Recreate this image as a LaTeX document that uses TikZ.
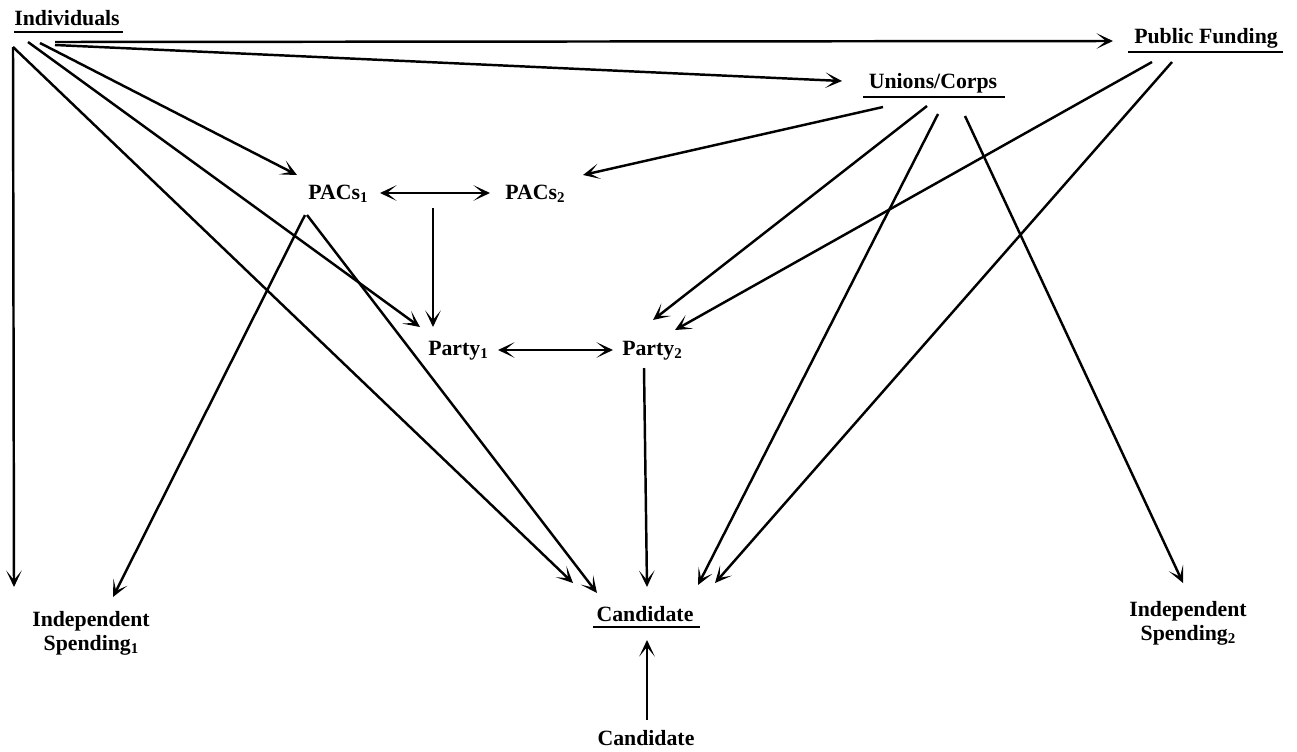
\documentclass[tikz,border=0pt]{standalone}
\usepackage{fontspec}
\setmainfont{Liberation Serif}
\usetikzlibrary{arrows.meta}
\newcommand\lsub[1]{\raisebox{-0.35ex}{\fontsize{8.5}{8.5}\selectfont #1}}
\tikzset{
  tipx/.tip={Stealth[length=0.33cm,width=0.31cm,inset=0.19cm]},
  lbl/.style={font=\fontsize{12.4}{13.8}\selectfont\bfseries, inner sep=0pt, anchor=base},
  conn/.style={line width=1.4pt, -tipx},
  twoway/.style={line width=1.4pt, tipx-tipx},
  ul/.style={line width=1.5pt}
}
\begin{document}
\begin{tikzpicture}[x=0.02cm,y=-0.02cm]
\useasboundingbox (0,0) rectangle (1297,751);
% nodes
\node[lbl] (ind) at (67,25) {Individuals};
\node[lbl] (pub) at (1206,43) {Public Funding};
\node[lbl] (uni) at (933,88) {Unions/Corps};
\node[lbl] (pac1) at (338,199) {PACs\lsub{1}};
\node[lbl] (pac2) at (535,199) {PACs\lsub{2}};
\node[lbl] (par1) at (458,355) {Party\lsub{1}};
\node[lbl] (par2) at (652,355) {Party\lsub{2}};
\node[lbl] (cand) at (645,621) {Candidate};
\node[lbl] (cand2) at (646,745) {Candidate};
\node[lbl, anchor=center, align=center] (is1) at (91,633) {Independent\\Spending\lsub{1}};
\node[lbl, anchor=center, align=center] (is2) at (1188,623) {Independent\\Spending\lsub{2}};
% underlines
\draw[ul] (14,32) -- (123,32);
\draw[ul] (1128,52) -- (1283,52);
\draw[ul] (863,97) -- (1005,97);
\draw[ul] (593,627) -- (700,627);
% connector end points
\coordinate (indA) at (13,47);
\coordinate (indB) at (28,42);
\coordinate (indC) at (40,43);
\coordinate (indD) at (55,42);
\coordinate (indE) at (55,45);
\coordinate (lft) at (14,587);
\coordinate (pubIn) at (1113,41);
\coordinate (uniIn) at (842,81);
\coordinate (pac1In) at (297,175);
\coordinate (pac1A) at (305,215);
\coordinate (pac1B) at (307,215);
\coordinate (is1In) at (113,597);
\coordinate (candA) at (573,583);
\coordinate (candB) at (597,593);
\coordinate (candC) at (647,587);
\coordinate (candD) at (698,585);
\coordinate (candE) at (715,583);
\coordinate (candF) at (647,640);
\coordinate (cand2Out) at (647,720);
\coordinate (pacL) at (380,193);
\coordinate (pacR) at (490,193);
\coordinate (pacsOut) at (433,208);
\coordinate (par1In) at (433,327);
\coordinate (par1InB) at (420,327);
\coordinate (parL) at (498,350);
\coordinate (parR) at (613,350);
\coordinate (par2Out) at (644,368);
\coordinate (par2InA) at (653,320);
\coordinate (par2InB) at (675,330);
\coordinate (pac2In) at (583,175);
\coordinate (uniA) at (883,107);
\coordinate (uniB) at (927,106);
\coordinate (uniC) at (938,114);
\coordinate (uniD) at (965,116);
\coordinate (is2In) at (1183,583);
\coordinate (pubA) at (1152,62);
\coordinate (pubB) at (1172,62);
% connectors from Individuals
\draw[conn] (indA) -- (lft);
\draw[conn] (indA) -- (candA);
\draw[conn] (indB) -- (par1InB);
\draw[conn] (indC) -- (pac1In);
\draw[conn] (indD) -- (pubIn);
\draw[conn] (indE) -- (uniIn);
% PACs
\draw[conn] (pac1A) -- (is1In);
\draw[conn] (pac1B) -- (candB);
\draw[twoway] (pacL) -- (pacR);
\draw[conn] (pacsOut) -- (par1In);
% Parties
\draw[twoway] (parL) -- (parR);
\draw[conn] (par2Out) -- (candC);
% Unions/Corps
\draw[conn] (uniA) -- (pac2In);
\draw[conn] (uniB) -- (par2InA);
\draw[conn] (uniC) -- (candD);
\draw[conn] (uniD) -- (is2In);
% Public Funding
\draw[conn] (pubA) -- (par2InB);
\draw[conn] (pubB) -- (candE);
% Candidate
\draw[conn] (cand2Out) -- (candF);
\end{tikzpicture}
\end{document}
